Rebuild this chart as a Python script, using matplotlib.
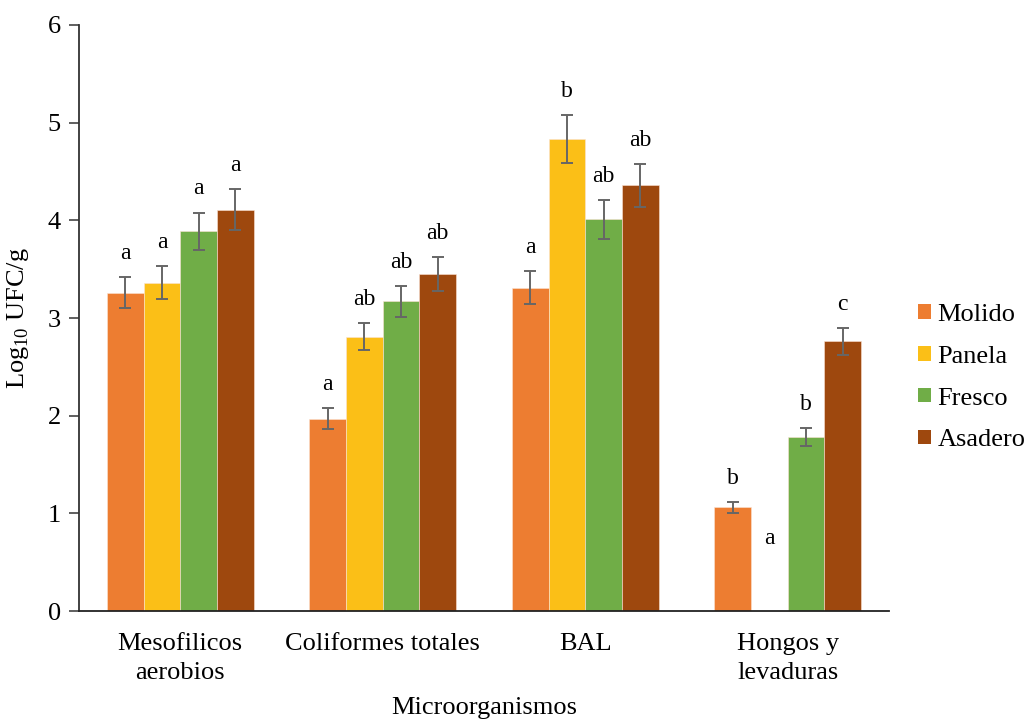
import numpy as np
import matplotlib.pyplot as plt
from matplotlib.patches import Patch

plt.rcParams['font.family'] = ['Liberation Serif', 'DejaVu Serif']
plt.rcParams['mathtext.fontset'] = 'custom'
plt.rcParams['mathtext.rm'] = 'Liberation Serif'

grupos = ["Mesofilicos\naerobios", "Coliformes totales", "BAL", "Hongos y\nlevaduras"]
quesos = ["Molido", "Panela", "Fresco", "Asadero"]
colores = ["#ED7D31", "#FBBF17", "#70AD47", "#9E480E"]

# log10 UFC/g por tipo de queso (filas) y microorganismo (columnas)
molido = [3.26, 1.97, 3.31, 1.06]
panela = [3.36, 2.81, 4.83, 0.0]
fresco = [3.89, 3.17, 4.01, 1.78]
asadero = [4.11, 3.45, 4.36, 2.76]

err_molido = [0.16, 0.105, 0.17, 0.06]
err_panela = [0.17, 0.14, 0.245, 0.0]
err_fresco = [0.19, 0.155, 0.20, 0.09]
err_asadero = [0.21, 0.175, 0.22, 0.14]

letras_molido = ["a", "a", "a", "b"]
letras_panela = ["a", "ab", "b", "a"]
letras_fresco = ["a", "ab", "ab", "b"]
letras_asadero = ["a", "ab", "ab", "c"]

valores = [molido, panela, fresco, asadero]
errores = [err_molido, err_panela, err_fresco, err_asadero]
letras = [letras_molido, letras_panela, letras_fresco, letras_asadero]

fig = plt.figure(figsize=(10.27, 7.22), dpi=100)
ax = fig.add_axes([0.0769, 0.1537, 0.7887, 0.8117])

x = np.arange(len(grupos)) + 0.5
w = 0.181

for i in range(len(quesos)):
    pos = x + (i - 1.5) * w
    v = np.array(valores[i])
    e = np.array(errores[i])
    ax.bar(pos, v, w, color=colores[i], edgecolor="#fbe3d4", linewidth=0.4, label=quesos[i])
    m = e > 0
    ax.errorbar(pos[m], v[m], yerr=e[m], fmt="none", ecolor="#666666",
                elinewidth=1.4, capsize=4.5, capthick=1.4)
    for j in range(len(grupos)):
        tope = v[j] + e[j]
        if v[j] == 0:
            tope = 0.5  # sin crecimiento: letra sobre la base
        ax.annotate(letras[i][j], (pos[j], tope), xytext=(0, 13),
                    textcoords="offset points", ha="center", va="baseline",
                    fontsize=17)

ax.set_xlim(0, 4)
ax.set_ylim(0, 6)
ax.set_yticks(range(7))
ax.set_xticks(x)
ax.set_xticklabels(grupos, fontsize=19, linespacing=1.4)
ax.tick_params(axis="x", length=0, pad=16)
ax.tick_params(axis="y", length=7, width=1.2, color="#444444", labelsize=19, pad=6)

for s in ["top", "right"]:
    ax.spines[s].set_visible(False)
ax.spines["left"].set_color("#333333")
ax.spines["bottom"].set_color("#222222")
ax.spines["left"].set_linewidth(1.3)
ax.spines["bottom"].set_linewidth(1.3)

ax.set_ylabel(r"Log$_{10}$ UFC/g", fontsize=19, labelpad=12)
ax.set_xlabel("Microorganismos", fontsize=19, labelpad=9)

handles = [Patch(facecolor=c, edgecolor="none") for c in colores]
fig.legend(handles, quesos, loc="center left", bbox_to_anchor=(0.871, 0.477),
           frameon=False, fontsize=19, handlelength=0.48, handleheight=0.48,
           handletextpad=0.25, labelspacing=0.75)

fig.savefig("out.png", dpi=100)
